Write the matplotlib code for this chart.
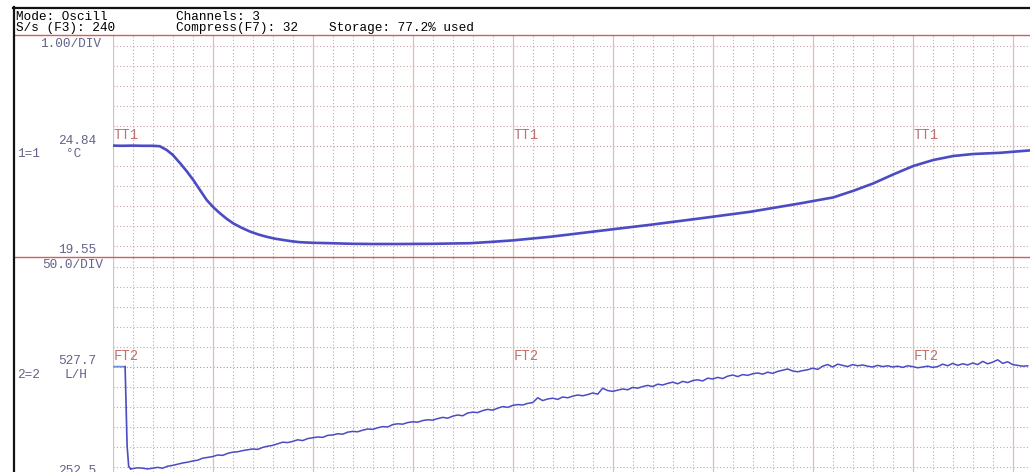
import numpy as np
import matplotlib.pyplot as plt
from matplotlib.lines import Line2D

W, H = 1030, 472

# header text
header_left = ["Mode: Oscill", "S/s (F3): 240"]
header_mid = ["Channels: 3", "Compress(F7): 32"]
header_storage = "Storage: 77.2% used"

# channel 1 (temperature)
ch1_scale, ch1_per_div = "1.00/DIV", 1.0
ch1_top, ch1_bot = 24.84, 19.55
ch1_unit, ch1_tag, ch1_name = "°C", "1=1", "TT1"

# channel 2 (flow)
ch2_scale, ch2_per_div = "50.0/DIV", 50.0
ch2_top, ch2_bot = 527.7, 252.5
ch2_unit, ch2_tag, ch2_name = "L/H", "2=2", "FT2"

# TT1 trace, x in screen divisions
tt1_x = [0.0, 0.5, 1.0, 1.5, 2.0, 2.35, 2.7, 3.0, 3.37, 3.7, 4.03, 4.37, 4.7,
         5.03, 5.37, 5.7, 6.03, 6.45, 6.87, 7.3, 7.7, 8.1, 8.53, 9.0, 9.37,
         10.0, 10.87, 12.0, 13.0, 14.37, 16.0, 17.87, 19.0, 20.0, 21.87,
         24.37, 26.87, 29.37, 31.87, 34.37, 35.03, 36.03, 37.03, 38.03,
         39.03, 40.03, 41.03, 42.03, 43.03, 44.37, 45.87]
tt1_y = [24.86, 24.85, 24.86, 24.85, 24.85, 24.83, 24.64, 24.40, 23.98, 23.58,
         23.14, 22.63, 22.14, 21.78, 21.47, 21.20, 20.97, 20.75, 20.56, 20.41,
         20.30, 20.21, 20.14, 20.07, 20.03, 20.00, 19.98, 19.95, 19.94, 19.94,
         19.95, 19.98, 20.05, 20.12, 20.30, 20.60, 20.90, 21.22, 21.55, 21.97,
         22.09, 22.27, 22.60, 22.97, 23.42, 23.84, 24.14, 24.34, 24.44, 24.50,
         24.62]

# FT2 trace
ft2_head_x = [0.0, 0.3, 0.62]
ft2_head_y = [527.7, 527.9, 527.7]
ft2_drop_x = [0.62, 0.66, 0.72, 0.8, 0.9]
ft2_drop_y = [527.7, 450, 330, 278, 272]
ft2_x = np.arange(1.0, 46.0, 0.25)
ft2_y = [273, 275, 274, 272, 274, 276, 274, 279, 281, 284, 287, 289, 292, 294, 299, 301,
         303, 307, 306, 311, 314, 315, 318, 320, 322, 321, 326, 329, 331, 335, 339, 338, 341, 345, 343, 348,
         350, 352, 351, 356, 357, 360, 359, 364, 366, 365, 369, 372, 371, 375, 378, 377, 383, 385, 384, 388,
         390, 389, 393, 395, 394, 398, 401, 399, 404, 407, 405, 412, 414, 413, 418, 421, 419, 424, 428, 426,
         431, 433, 432, 436, 438, 450, 443, 447, 449, 446, 452, 450, 454, 457, 455, 458, 462, 459, 474, 468,
         466, 469, 472, 470, 476, 474, 478, 481, 478, 484, 482, 486, 489, 485, 491, 488, 493, 495, 492, 499,
         497, 501, 498, 504, 507, 503, 508, 506, 510, 512, 509, 514, 511, 516, 519, 522, 517, 515, 518, 520,
         524, 521, 529, 533, 527, 534, 531, 528, 533, 530, 532, 529, 527, 531, 528, 530, 527, 529, 526, 530,
         528, 525, 527, 529, 526, 528, 534, 530, 536, 531, 535, 532, 537, 533, 541, 535, 539, 545, 536, 540,
         533, 531, 529, 530]

mono = "Liberation Mono"
trace = "#4b4bc4"
red = "#cf5f5f"
grid_c = "#c9a6a6"
label_c = "#62628a"

fig = plt.figure(figsize=(W / 100, H / 100), dpi=100)
fig.patch.set_facecolor("white")

# screen geometry in pixels
plot_left = 112.7
div_px = 20.0
top_sep, mid_sep = 35, 257
ref1_px, ref2_px = 146.0, 366.7
ndiv = (W - plot_left) / div_px

ax1 = fig.add_axes([plot_left / W, 1 - mid_sep / H, 1 - plot_left / W, (mid_sep - top_sep) / H])
ax2 = fig.add_axes([plot_left / W, 0, 1 - plot_left / W, (H - mid_sep) / H])

ax1.set_ylim(ch1_top - (mid_sep - ref1_px) / div_px * ch1_per_div,
             ch1_top + (ref1_px - top_sep) / div_px * ch1_per_div)
ax2.set_ylim(ch2_top - (H - ref2_px) / div_px * ch2_per_div,
             ch2_top + (ref2_px - mid_sep) / div_px * ch2_per_div)

for ax, ref, step, name in [(ax1, ch1_top, ch1_per_div, ch1_name),
                            (ax2, ch2_top, ch2_per_div, ch2_name)]:
    ax.set_xlim(0, ndiv)
    ax.set_facecolor("none")
    for s in ax.spines.values():
        s.set_visible(False)
    ax.set_xticks([])
    ax.set_yticks([])
    lo, hi = ax.get_ylim()
    for k in range(-8, 9):
        yv = ref + k * step
        if lo < yv < hi:
            ax.axhline(yv, color="#b89494" if k == 0 else grid_c, lw=0.8,
                       ls=(0, (1, 2)), zorder=1)
    for d in range(0, int(ndiv) + 1):
        if d % 5 == 0:
            ax.axvline(d, color="#ddbcbc", lw=0.9, zorder=1)
        else:
            ax.axvline(d, color=grid_c, lw=0.8, ls=(0, (1, 2)), zorder=1)
    for d in (0, 20, 40):
        ax.text(d + 0.05, ref + step * 0.2, name, color="#c47070", family=mono,
                fontsize=10, va="bottom", ha="left", zorder=3)

ax1.plot(tt1_x, tt1_y, color=trace, lw=1.9, zorder=4, solid_capstyle="butt")
ax2.plot(ft2_head_x, ft2_head_y, color="#6f8fd6", lw=1.3, zorder=4)
ax2.plot(ft2_drop_x, ft2_drop_y, color=trace, lw=1.2, zorder=4)
ax2.plot([ft2_drop_x[-1]] + list(ft2_x), [ft2_drop_y[-1]] + ft2_y, color=trace, lw=1.1, zorder=4)

# frame lines
def fline(xs, ys, **kw):
    fig.add_artist(Line2D([x / W for x in xs], [1 - y / H for y in ys],
                          transform=fig.transFigure, **kw))

fline([14, W], [top_sep, top_sep], color=red, lw=1.0)
fline([14, W], [mid_sep, mid_sep], color=red, lw=1.0)
fline([13, W], [7.5, 7.5], color="#111111", lw=1.6)
fline([14, 14], [7, H], color="#111111", lw=1.6)

def ftxt(px, py, s, ha="left", color="black", size=9.2):
    fig.text(px / W, 1 - py / H, s, family=mono, fontsize=size, ha=ha,
             va="baseline", color=color)

ftxt(16, 19.5, header_left[0])
ftxt(16, 30.5, header_left[1])
ftxt(176, 19.5, header_mid[0])
ftxt(176, 30.5, header_mid[1])
ftxt(329, 30.5, header_storage)

ftxt(40, 47, ch1_scale, color=label_c)
ftxt(96, 144, f"{ch1_top:.2f}", ha="right", color=label_c)
ftxt(66, 157, ch1_unit, color=label_c)
ftxt(17, 157, ch1_tag, color=label_c)
ftxt(96, 253, f"{ch1_bot:.2f}", ha="right", color=label_c)

ftxt(42, 268, ch2_scale, color=label_c)
ftxt(96, 364.5, f"{ch2_top:.1f}", ha="right", color=label_c)
ftxt(65, 378, ch2_unit, color=label_c)
ftxt(17, 378, ch2_tag, color=label_c)
ftxt(96, 474, f"{ch2_bot:.1f}", ha="right", color=label_c)

fig.savefig("out.png", dpi=100, facecolor="white")
